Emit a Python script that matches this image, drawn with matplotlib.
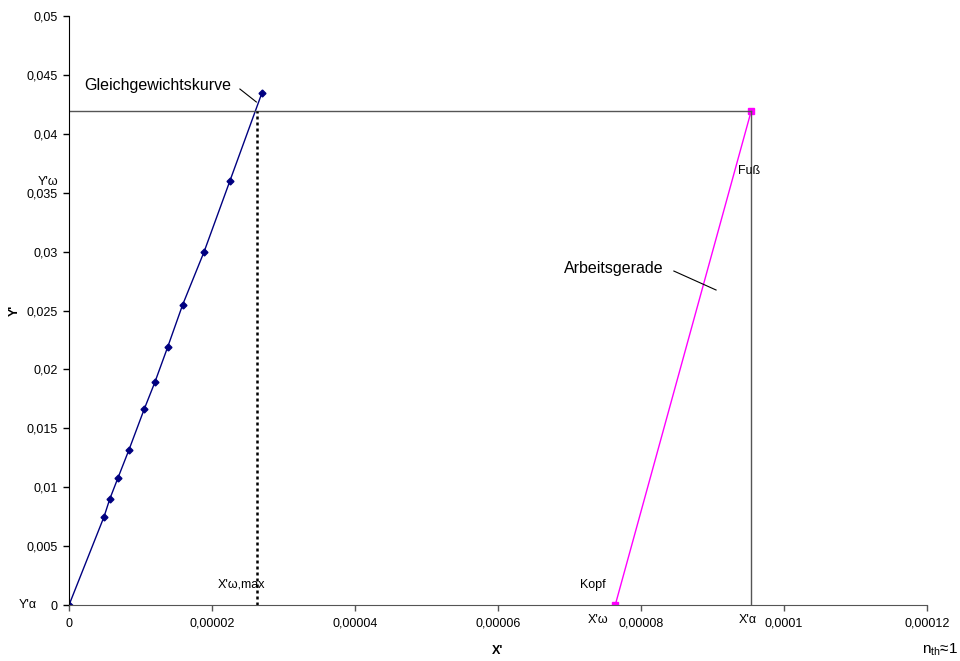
import matplotlib.pyplot as plt
from matplotlib.ticker import FuncFormatter

plt.rcParams['font.family'] = ['Liberation Sans', 'DejaVu Sans']

# Gleichgewichtskurve
gg_x = [0, 4.9e-6, 5.7e-6, 6.85e-6, 8.4e-6, 1.05e-5, 1.2e-5, 1.38e-5, 1.59e-5, 1.89e-5, 2.25e-5, 2.7e-5]
gg_y = [0, 0.0075, 0.0090, 0.0108, 0.0132, 0.0166, 0.0189, 0.0219, 0.0255, 0.0300, 0.0360, 0.0435]
# Arbeitsgerade
ag_x = [7.64e-5, 9.54e-5]
ag_y = [0, 0.0419]
x_wmax = 2.63e-5
y_w = 0.0419

fig = plt.figure(figsize=(9.6, 6.61), dpi=100)
ax = fig.add_axes([0.0719, 0.0847, 0.8937, 0.8911])

ax.plot(gg_x, gg_y, '-', color='#000080', lw=1, marker='D', ms=3.5)
ax.plot(ag_x, ag_y, '-', color='#ff00ff', lw=1, marker='s', ms=5)
ax.plot([0, ag_x[1]], [y_w, y_w], color='#555555', lw=1)
ax.plot([ag_x[1], ag_x[1]], [0, y_w], color='#555555', lw=1)
ax.plot([x_wmax, x_wmax], [0, y_w], color='black', lw=1.8, ls=(0, (1.2, 1.2)))

ax.set_xlim(0, 0.00012)
ax.set_ylim(0, 0.05)
ax.set_xticks([0, 0.00002, 0.00004, 0.00006, 0.00008, 0.0001, 0.00012])
ax.set_yticks([i * 0.005 for i in range(11)])
fmt = FuncFormatter(lambda v, p: ('%g' % round(v, 8)).replace('.', ',') if abs(v) >= 1e-4 or v == 0
                    else ('%.5f' % v).rstrip('0').replace('.', ','))
ax.xaxis.set_major_formatter(fmt)
ax.yaxis.set_major_formatter(fmt)
ax.tick_params(labelsize=9, direction='out', length=4, width=1)
for s in ['top', 'right']:
    ax.spines[s].set_visible(False)
ax.spines['bottom'].set_color('#555555')
ax.spines['left'].set_color('black')
ax.tick_params(axis='x', colors='#555555', labelcolor='black', pad=5)
ax.tick_params(axis='y', pad=4)

ax.set_xlabel("X'", fontsize=9, fontweight='bold')
ax.set_ylabel("Y'", fontsize=9, fontweight='bold')
ax.xaxis.set_label_coords(0.5, -0.068)
ax.yaxis.set_label_coords(-0.056, 0.5)

ax.text(-1.5e-6, 0.0359, "Y'ω", fontsize=9, ha='right', va='center')
ax.text(-4.5e-6, 0.0, "Y'α", fontsize=9, ha='right', va='center')
ax.text(2.41e-5, 0.0012, "X'ω,max", fontsize=9, ha='center', va='bottom')
ax.text(7.5e-5, 0.0012, "Kopf", fontsize=9, ha='right', va='bottom')
ax.text(7.55e-5, -0.0008, "X'ω", fontsize=9, ha='right', va='top')
ax.text(9.5e-5, -0.0008, "X'α", fontsize=9, ha='center', va='top')
ax.text(9.36e-5, 0.0368, "Fuß", fontsize=9, ha='left', va='center')

ax.text(2.266e-5, 0.0441, "Gleichgewichtskurve", fontsize=11.5, ha='right', va='center')
ax.plot([2.39e-5, 2.62e-5], [0.0438, 0.0427], color='black', lw=0.8)
ax.text(8.32e-5, 0.0286, "Arbeitsgerade", fontsize=11.5, ha='right', va='center')
ax.plot([8.46e-5, 9.05e-5], [0.02835, 0.02674], color='black', lw=0.8)

fig.text(0.998, 0.005, r"n$_{\mathregular{th}}$≈1", fontsize=11, ha='right', va='bottom')

fig.savefig('out.png', dpi=100)
